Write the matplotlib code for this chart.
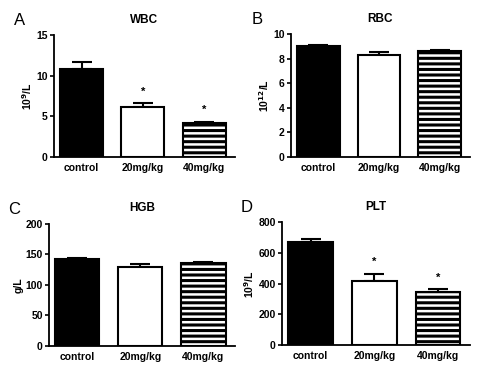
import matplotlib
matplotlib.use("Agg")
import matplotlib.pyplot as plt

plt.rcParams['font.family'] = ['Liberation Sans', 'DejaVu Sans']
plt.rcParams['hatch.linewidth'] = 2.2
plt.rcParams['hatch.color'] = 'black'

groups = ['control', '20mg/kg', '40mg/kg']

wbc = [10.9, 6.2, 4.2]
wbc_err = [0.8, 0.4, 0.15]
rbc = [9.0, 8.3, 8.65]
rbc_err = [0.1, 0.25, 0.05]
hgb = [142, 130, 136]
hgb_err = [1.5, 4, 1]
plt_vals = [670, 420, 345]
plt_err = [22, 45, 18]

panels = [
    dict(letter='A', title='WBC', vals=wbc, err=wbc_err, ylabel=r'10$^{\mathbf{9}}$/L',
         ylim=(0, 15), ticks=[0, 5, 10, 15], stars=[False, True, True], star_off=0.8,
         pos=[0.108, 0.5745, 0.362, 0.330]),
    dict(letter='B', title='RBC', vals=rbc, err=rbc_err, ylabel=r'10$^{\mathbf{12}}$/L',
         ylim=(0, 10), ticks=[0, 2, 4, 6, 8, 10], stars=[False, False, False], star_off=0,
         pos=[0.582, 0.5745, 0.358, 0.333]),
    dict(letter='C', title='HGB', vals=hgb, err=hgb_err, ylabel='g/L',
         ylim=(0, 200), ticks=[0, 50, 100, 150, 200], stars=[False, False, False], star_off=0,
         pos=[0.098, 0.0623, 0.372, 0.331]),
    dict(letter='D', title='PLT', vals=plt_vals, err=plt_err, ylabel=r'10$^{\mathbf{9}}$/L',
         ylim=(0, 800), ticks=[0, 200, 400, 600, 800], stars=[False, True, True], star_off=45,
         pos=[0.564, 0.065, 0.376, 0.333]),
]

fig = plt.figure(figsize=(5.0, 3.69), dpi=100)
x = [0, 1, 2]
faces = ['black', 'white', 'white']
hatches = [None, None, '---']

for p in panels:
    ax = fig.add_axes(p['pos'])
    for i in range(3):
        ax.bar(x[i], p['vals'][i], width=0.7, color=faces[i], edgecolor='black',
               linewidth=1.5, hatch=hatches[i], zorder=2)
    ax.errorbar(x, p['vals'], yerr=[[0, 0, 0], p['err']], fmt='none', ecolor='black',
                elinewidth=1.5, capsize=7, capthick=1.5, zorder=1)
    for i in range(3):
        if p['stars'][i]:
            ax.text(x[i], p['vals'][i] + p['err'][i] + p['star_off'], '*', ha='center',
                    va='bottom', fontsize=8, fontweight='bold')
    ax.set_xlim(-0.45, 2.5)
    ax.set_ylim(*p['ylim'])
    ax.set_yticks(p['ticks'])
    ax.set_xticks(x)
    ax.set_xticklabels(groups, fontsize=7.5, fontweight='bold')
    ax.tick_params(axis='x', length=0, pad=4)
    ax.tick_params(axis='y', length=3, width=1.2, labelsize=7.5, pad=1.5)
    for lab in ax.get_yticklabels():
        lab.set_fontweight('bold')
    ax.spines['top'].set_visible(False)
    ax.spines['right'].set_visible(False)
    ax.spines['left'].set_linewidth(1.3)
    ax.spines['bottom'].set_linewidth(1.3)
    ax.set_ylabel(p['ylabel'], fontsize=7.5, fontweight='bold', labelpad=1.5)
    ax.set_title(p['title'], fontsize=8.5, fontweight='bold', pad=9)
    ax.text(-0.22, 1.12, p['letter'], transform=ax.transAxes, fontsize=12,
            ha='left', va='center')

fig.savefig('out.png', dpi=100)
